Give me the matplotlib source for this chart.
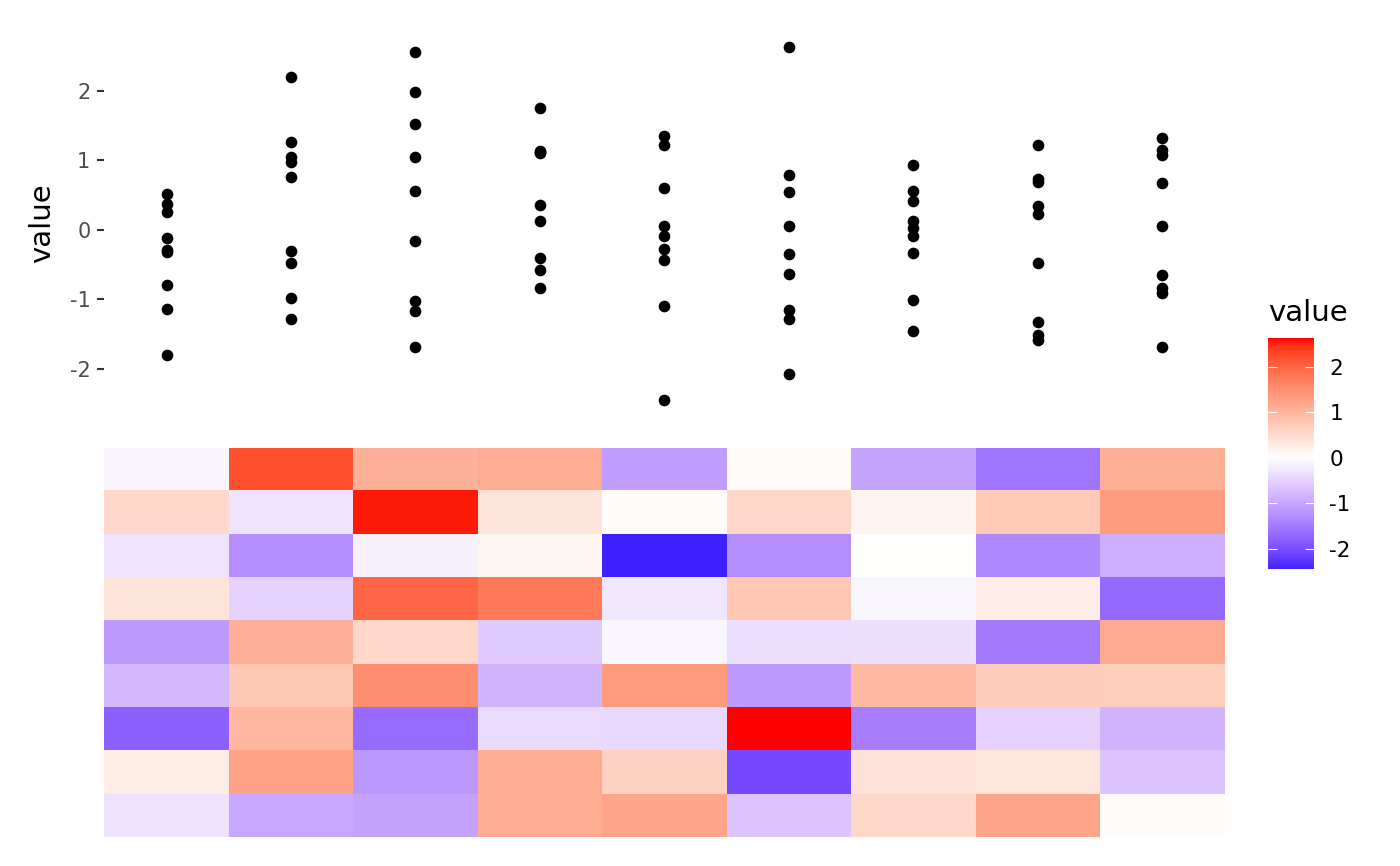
import numpy as np

import matplotlib
matplotlib.use("Agg")
import matplotlib.pyplot as plt
from matplotlib.colors import ListedColormap, Normalize


# one list per heatmap column, rows from top to bottom
columns = ["c1", "c2", "c3", "c4", "c5", "c6", "c7", "c8", "c9"]
rows = ["r1", "r2", "r3", "r4", "r5", "r6", "r7", "r8", "r9"]

c1 = [-0.12, 0.52, -0.29, 0.37, -1.14, -0.80, -1.80, 0.25, -0.32]
c2 = [2.20, -0.30, -1.28, -0.48, 1.05, 0.76, 0.97, 1.26, -0.98]
c3 = [1.05, 2.55, -0.16, 1.98, 0.55, 1.52, -1.68, -1.16, -1.03]
c4 = [1.13, 0.36, 0.12, 1.75, -0.58, -0.84, -0.41, 1.12, 1.11]
c5 = [-1.10, 0.06, -2.45, -0.28, -0.09, 1.35, -0.43, 0.60, 1.22]
c6 = [0.06, 0.54, -1.28, 0.78, -0.35, -1.15, 2.63, -2.07, -0.64]
c7 = [-1.01, 0.13, 0.02, -0.09, -0.34, 0.93, -1.46, 0.41, 0.55]
c8 = [-1.58, 0.73, -1.32, 0.23, -1.51, 0.69, -0.48, 0.34, 1.22]
c9 = [1.08, 1.32, -0.91, -1.69, 1.14, 0.67, -0.84, -0.65, 0.06]

y_ticks = [-2, -1, 0, 1, 2]
legend_ticks = [-2, -1, 0, 1, 2]


def srgb_to_lab(rgb):
    rgb = np.asarray(rgb, dtype=float)
    lin = np.where(rgb <= 0.04045, rgb / 12.92, ((rgb + 0.055) / 1.055) ** 2.4)
    m = np.array([[0.4124564, 0.3575761, 0.1804375],
                  [0.2126729, 0.7151522, 0.0721750],
                  [0.0193339, 0.1191920, 0.9503041]])
    xyz = lin @ m.T / np.array([0.95047, 1.0, 1.08883])
    f = np.where(xyz > 0.008856, np.cbrt(xyz), 7.787 * xyz + 16 / 116)
    return np.array([116 * f[1] - 16, 500 * (f[0] - f[1]), 200 * (f[1] - f[2])])


def lab_to_srgb(lab):
    L, a, b = lab[:, 0], lab[:, 1], lab[:, 2]
    fy = (L + 16) / 116
    fx = fy + a / 500
    fz = fy - b / 200
    f = np.stack([fx, fy, fz], axis=1)
    xyz = np.where(f ** 3 > 0.008856, f ** 3, (f - 16 / 116) / 7.787)
    xyz = xyz * np.array([0.95047, 1.0, 1.08883])
    m_inv = np.array([[3.2404542, -1.5371385, -0.4985314],
                      [-0.9692660, 1.8760108, 0.0415560],
                      [0.0556434, -0.2040259, 1.0572252]])
    lin = np.clip(xyz @ m_inv.T, 0, 1)
    rgb = np.where(lin <= 0.0031308, 12.92 * lin, 1.055 * lin ** (1 / 2.4) - 0.055)
    return np.clip(rgb, 0, 1)


def gradient2_cmap(low, mid, high, n=256):
    # blue - white - red blended in Lab space
    lo, mi, hi = srgb_to_lab(low), srgb_to_lab(mid), srgb_to_lab(high)
    t = np.linspace(0, 1, n)
    lab = np.where(t[:, None] < 0.5,
                   lo + (mi - lo) * (t[:, None] / 0.5),
                   mi + (hi - mi) * ((t[:, None] - 0.5) / 0.5))
    return ListedColormap(lab_to_srgb(lab))


def main():
    data = np.array([c1, c2, c3, c4, c5, c6, c7, c8, c9]).T
    n_rows, n_cols = data.shape
    x = np.arange(1, n_cols + 1)

    cmap = gradient2_cmap([0, 0, 1], [1, 1, 1], [1, 0, 0])
    lim = np.abs(data).max()
    norm = Normalize(vmin=-lim, vmax=lim)

    plt.rcParams["font.family"] = "DejaVu Sans"
    fig = plt.figure(figsize=(14, 8.66), dpi=100)

    ax_top = fig.add_axes([0.0745, 0.5173, 0.8, 0.4492])
    ax_heat = fig.add_axes([0.0745, 0.0335, 0.8, 0.4492])
    cax = fig.add_axes([0.9055, 0.343, 0.0331, 0.2667])

    # scatter of each column's values
    for j in range(n_cols):
        ax_top.plot(np.full(n_rows, x[j]), data[:, j], "o", color="black",
                    markersize=8.4, markeredgewidth=0, linestyle="none")
    lo, hi = data.min(), data.max()
    pad = (hi - lo) * 0.05
    ax_top.set_xlim(0.5, n_cols + 0.5)
    ax_top.set_ylim(lo - pad, hi + pad)
    ax_top.set_yticks(y_ticks)
    ax_top.set_yticklabels([str(t) for t in y_ticks])
    ax_top.set_xticks([])
    ax_top.tick_params(axis="y", length=5, width=1.5, color="#333333",
                       labelcolor="#4D4D4D", labelsize=15, pad=5)
    for s in ax_top.spines.values():
        s.set_visible(False)
    ax_top.set_ylabel("value", fontsize=21, color="black")
    ax_top.yaxis.set_label_coords(-0.043, 0.5)

    # heatmap
    im = ax_heat.imshow(data, cmap=cmap, norm=norm, aspect="auto",
                        interpolation="nearest",
                        extent=(0.5, n_cols + 0.5, n_rows + 0.5, 0.5))
    ax_heat.set_xticks([])
    ax_heat.set_yticks([])
    for s in ax_heat.spines.values():
        s.set_visible(False)

    # colour bar
    cb = fig.colorbar(im, cax=cax)
    cb.outline.set_visible(False)
    cax.set_ylim(lo, hi)
    cb.set_ticks(legend_ticks)
    cb.set_ticklabels([str(t) for t in legend_ticks])
    cax.yaxis.set_ticks_position("both")
    cax.tick_params(axis="y", direction="in", length=6.7, width=0.8,
                    color="white", labelcolor="black", labelsize=15.5,
                    left=True, right=True, labelleft=False, labelright=True, pad=11)
    fig.text(1268 / 1400, (866 - 321) / 866, "value", fontsize=21,
             color="black", ha="left", va="baseline")

    fig.savefig("out.png", dpi=100)
    plt.close(fig)


if __name__ == "__main__":
    main()
